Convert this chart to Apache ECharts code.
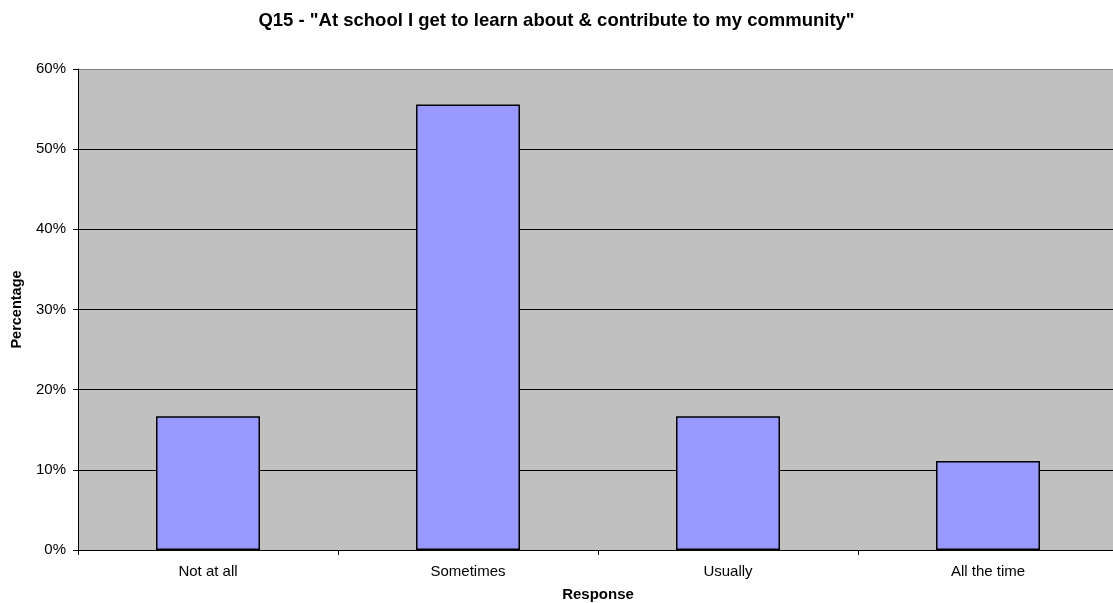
<!DOCTYPE html>
<html>
<head>
<meta charset="utf-8">
<script src="https://cdn.jsdelivr.net/npm/echarts@6/dist/echarts.min.js"></script>
<style>
  html, body { margin: 0; padding: 0; background: #fff; }
  #chart { width: 1113px; height: 603px; }
</style>
</head>
<body>
<div id="chart"></div>
<script>
// Survey responses to Q15 (share of students, %)
const categories = ['Not at all', 'Sometimes', 'Usually', 'All the time'];
const percentages = [16.67, 55.56, 16.67, 11.11];
const yTicks = [0, 10, 20, 30, 40, 50, 60];

const FONT = '"Liberation Sans", Arial, sans-serif';

const chart = echarts.init(document.getElementById('chart'), null, { renderer: 'canvas' });

chart.setOption({
  animation: false,
  backgroundColor: '#ffffff',
  title: {
    text: 'Q15 - "At school I get to learn about & contribute to my community"',
    left: 'center',
    top: 6,
    textStyle: { fontFamily: FONT, fontSize: 18.5, fontWeight: 'bold', color: '#000' }
  },
  grid: {
    left: 78,
    right: -5,
    top: 69,
    bottom: 53,
    outerBoundsMode: 'none',
    containLabel: false,
    show: true,
    backgroundColor: '#c0c0c0',
    borderWidth: 0
  },
  xAxis: {
    type: 'category',
    data: categories,
    name: 'Response',
    nameLocation: 'middle',
    nameGap: 37.5,
    nameTextStyle: { fontFamily: FONT, fontSize: 15, fontWeight: 'bold', color: '#000' },
    axisLine: { lineStyle: { color: '#000', width: 1 } },
    axisTick: { show: true, length: 5, alignWithLabel: false, lineStyle: { color: '#000' } },
    axisLabel: { fontFamily: FONT, fontSize: 15, color: '#000', margin: 14 },
    splitLine: { show: false }
  },
  yAxis: {
    type: 'value',
    min: yTicks[0],
    max: yTicks[yTicks.length - 1],
    interval: 10,
    name: 'Percentage',
    nameLocation: 'middle',
    nameGap: 54,
    nameRotate: 90,
    nameTextStyle: { fontFamily: FONT, fontSize: 14.5, fontWeight: 'bold', color: '#000' },
    axisLine: { show: true, lineStyle: { color: '#000', width: 1 } },
    axisTick: { show: true, length: 5, lineStyle: { color: '#000' } },
    axisLabel: {
      fontFamily: FONT, fontSize: 15, color: '#000', margin: 12,
      formatter: v => v + '%'
    },
    splitLine: {
      show: true,
      lineStyle: { color: ['#000', '#000', '#000', '#000', '#000', '#000', '#7f7f7f'], width: 1 }
    }
  },
  series: [{
    type: 'bar',
    data: percentages,
    barWidth: '40%',
    itemStyle: { color: '#9999ff', borderColor: '#000', borderWidth: 1.5 }
  }]
});
</script>
</body>
</html>
